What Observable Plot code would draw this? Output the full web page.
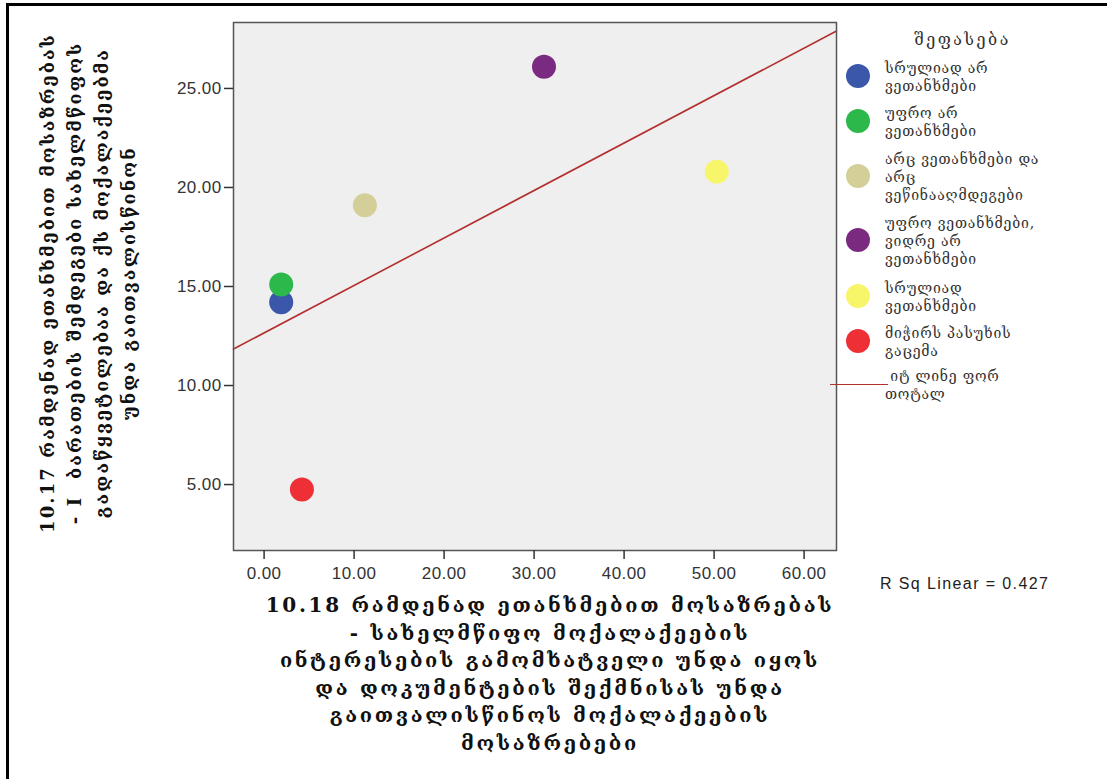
<!DOCTYPE html>
<html>
<head>
<meta charset="utf-8">
<script src="https://cdn.jsdelivr.net/npm/d3@7"></script>
<script src="https://cdn.jsdelivr.net/npm/@observablehq/plot@0.6"></script>
<style>
  html, body { margin: 0; padding: 0; background: #fff; }
  #wrap { position: relative; width: 1107px; height: 779px; overflow: hidden; }
  #border { position: absolute; left: 6px; top: 3px; right: 0; bottom: 0; border-left: 3px solid #000; border-top: 3px solid #000; }
  #chart { position: absolute; left: 0; top: 0; }
  .ytitle { position: absolute; left: 88px; top: 283px; width: 560px; transform: translate(-50%, -50%) rotate(-90deg);
    font-family: "DejaVu Serif", serif; font-weight: bold; font-size: 18px; letter-spacing: 2.1px; line-height: 27px; text-align: center; color: #111; white-space: pre; }
  .xtitle { position: absolute; left: 550px; top: 592px; transform: translateX(-50%);
    font-family: "DejaVu Serif", serif; font-weight: bold; font-size: 20px; letter-spacing: 2.7px; line-height: 27.5px; text-align: center; color: #111; white-space: pre; }
  .legend { position: absolute; left: 840px; top: 30px; font-family: "DejaVu Serif", serif; font-size: 14px; letter-spacing: 0.8px; color: #333; }
  .ltitle { position: absolute; left: 50px; top: 0px; width: 145px; text-align: center; font-size: 16px; letter-spacing: 2.5px; white-space: nowrap; }
  .item { position: absolute; left: 0; white-space: nowrap; }
  .item .sw { position: absolute; left: 6px; width: 24px; height: 24px; border-radius: 50%; }
  .item .tx { position: absolute; left: 45px; line-height: 18px; }
  .rsq { position: absolute; left: 880px; top: 575px; font-family: "Liberation Sans", Arial, sans-serif; font-size: 16px; letter-spacing: 1.4px; color: #222; }
</style>
</head>
<body>
<div id="wrap">
  <div id="border"></div>
  <div id="chart"></div>
  <div class="ytitle" id="ytitle"></div>
  <div class="xtitle" id="xtitle"></div>
  <div class="legend" id="legend"></div>
  <div class="rsq" id="rsq"></div>
</div>
<script>
// ---- data ----
const categories = [
  "სრულიად არ ვეთანხმები",
  "უფრო არ ვეთანხმები",
  "არც ვეთანხმები და არც ვეწინააღმდეგები",
  "უფრო ვეთანხმები, ვიდრე არ ვეთანხმები",
  "სრულიად ვეთანხმები",
  "მიჭირს პასუხის გაცემა"
];
const legendLines = [
  ["სრულიად არ", "ვეთანხმები"],
  ["უფრო არ", "ვეთანხმები"],
  ["არც ვეთანხმები და", "არც", "ვეწინააღმდეგები"],
  ["უფრო ვეთანხმები,", "ვიდრე არ", "ვეთანხმები"],
  ["სრულიად", "ვეთანხმები"],
  ["მიჭირს პასუხის", "გაცემა"]
];
const xValues = [1.9, 1.9, 11.2, 31.1, 50.3, 4.2];
const yValues = [14.2, 15.1, 19.1, 26.1, 20.8, 4.75];
const colors = ["#3a57a9", "#2db84b", "#d4cf98", "#7a2a80", "#f7f66a", "#ee2f36"];
const xTicks = [0, 10, 20, 30, 40, 50, 60];
const yTicks = [5, 10, 15, 20, 25];
const legendTitle = "შეფასება";
const fitLabel = [" იტ ლინე ფორ", "თოტალ"];
const rsqLabel = "R Sq Linear = 0.427";
const xTitleLines = [
  "10.18 რამდენად ეთანხმებით მოსაზრებას",
  "- სახელმწიფო მოქალაქეების",
  "ინტერესების გამომხატველი უნდა იყოს",
  "და დოკუმენტების შექმნისას უნდა",
  "გაითვალისწინოს მოქალაქეების",
  "მოსაზრებები"
];
const yTitleLines = [
  "10.17 რამდენად ეთანხმებით მოსაზრებას",
  "- I  ბარათების შემდეგები სახელმწიფოს",
  "გადაწყვეტილებაა და ქს მოქალაქეებმა",
  "უნდა გაითვალისწინონ"
];

// ---- derived table ----
const points = categories.map((c, i) => ({cat: c, x: xValues[i], y: yValues[i]}));
const mx = d3.mean(xValues), my = d3.mean(yValues);
const slope = d3.sum(points, p => (p.x - mx) * (p.y - my)) / d3.sum(points, p => (p.x - mx) ** 2);
const intercept = my - slope * mx;
const xDomain = [-3.4, 63.6];
const yDomain = [1.67, 28.33];
const fit = xDomain.map(x => ({x, y: intercept + slope * x}));

const fmt = d3.format(".2f");
const chart = Plot.plot({
  width: 1107,
  height: 779,
  marginLeft: 233,
  marginRight: 271,
  marginTop: 22,
  marginBottom: 229,
  style: {fontFamily: "'Liberation Sans', Arial, sans-serif", fontSize: "17px", color: "#333", background: "transparent"},
  x: {domain: xDomain, label: null},
  y: {domain: yDomain, label: null},
  color: {domain: categories, range: colors},
  marks: [
    Plot.frame({fill: "#efefef", stroke: "none"}),
    Plot.line(fit, {x: "x", y: "y", stroke: "#b3302f", strokeWidth: 1.6}),
    Plot.dot(points, {x: "x", y: "y", fill: "cat", r: 12, stroke: "none"}),
    Plot.frame({stroke: "#555", strokeWidth: 1.5}),
    Plot.axisX({ticks: xTicks, tickFormat: fmt, tickSize: 9, tickPadding: 7, stroke: "#333", strokeWidth: 1.5, fill: "#333", fontSize: 17, label: null}),
    Plot.axisY({ticks: yTicks, tickFormat: fmt, tickSize: 9, tickPadding: 3, stroke: "#333", strokeWidth: 1.5, fill: "#333", fontSize: 17, label: null})
  ]
});
d3.select(chart).selectAll("text")
  .attr("font-size", 17)
  .style("font-size", "17px")
  .style("font-family", "'Liberation Sans', Arial, sans-serif")
  .style("letter-spacing", "0.4px");
document.getElementById("chart").appendChild(chart);

document.getElementById("ytitle").textContent = yTitleLines.join("\n");
document.getElementById("xtitle").textContent = xTitleLines.join("\n");
document.getElementById("rsq").textContent = rsqLabel;

// legend
const lg = document.getElementById("legend");
const lt = document.createElement("div");
lt.className = "ltitle"; lt.textContent = legendTitle; lg.appendChild(lt);
const markerY = [46, 91, 146, 210, 266, 311];
categories.forEach((c, i) => {
  const it = document.createElement("div");
  it.className = "item";
  it.style.top = (markerY[i] - 12) + "px";
  const sw = document.createElement("div");
  sw.className = "sw"; sw.style.background = colors[i];
  const tx = document.createElement("div");
  tx.className = "tx";
  const n = legendLines[i].length;
  tx.style.top = (12 - n * 18 / 2 + 1) + "px";
  tx.innerHTML = legendLines[i].join("<br>");
  it.appendChild(sw); it.appendChild(tx);
  lg.appendChild(it);
});
const fitItem = document.createElement("div");
fitItem.className = "item";
fitItem.style.top = "337px";
fitItem.innerHTML = '<div style="position:absolute;left:-10px;top:17px;width:58px;height:0;border-top:1.6px solid #b3302f"></div>' +
  '<div class="tx" style="top:0px;white-space:pre">' + fitLabel.join("<br>") + '</div>';
lg.appendChild(fitItem);
</script>
</body>
</html>
